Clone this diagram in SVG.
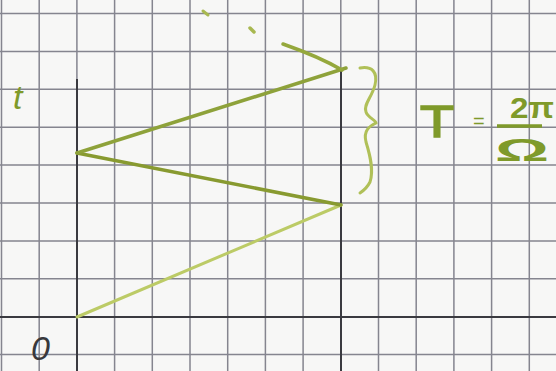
<svg xmlns="http://www.w3.org/2000/svg" width="556" height="371" viewBox="0 0 556 371">
<style>
.grid{stroke:#85858f;stroke-width:1.5;fill:none}
.axis{stroke:#3a3a40;stroke-width:2;fill:none}
.pen{stroke-linecap:round;fill:none}
.hand{fill:#7f9a2a;font-family:"Liberation Sans",Arial,sans-serif}
</style>
<rect width="556" height="371" fill="#f7f7f6"/>
<g id="grid" class="grid">
<path d="M1.5,0V371M39.2,0V371M76.9,0V371M114.6,0V371M152.3,0V371M190,0V371M227.7,0V371M265.4,0V371M303.1,0V371M340.8,0V371M378.5,0V371M416.2,0V371M453.9,0V371M491.6,0V371M529.3,0V371"/>
<path d="M0,13.5H556M0,51.4H556M0,89.3H556M0,127.2H556M0,165.1H556M0,203H556M0,240.9H556M0,278.8H556M0,316.7H556M0,354.6H556"/>
</g>
<g id="axes" class="axis">
<path d="M77,79V371"/>
<path d="M0,317H556"/>
<path d="M341,68V371"/>
</g>
<g id="connectors">
<path class="pen" d="M77,317L341,205" stroke="#bccb66" stroke-width="3"/>
<path class="pen" d="M341,205L77,153" stroke="#889a30" stroke-width="3.5"/>
<path class="pen" d="M77,153L346,68" stroke="#8ea23a" stroke-width="3.5"/>
<path class="pen" d="M283,44C300,50 325,60 342,70" stroke="#95a83c" stroke-width="3.5"/>
<path class="pen" d="M203,11L208,15" stroke="#a8b850" stroke-width="3"/>
<path class="pen" d="M250,28L254,32" stroke="#a8b850" stroke-width="3.5"/>
</g>
<g id="brace">
<path class="pen" stroke="#b0c058" stroke-width="3" d="M360,68C372,66 378,72 375,85C372,97 363,105 366,112C368,118 376,120 376,123C370,126 363,130 366,142C370,155 374,170 370,182C367,188 363,191 360,193"/>
</g>
<g id="label-t">
<text class="hand" x="13" y="109" font-size="34" font-style="italic">t</text>
</g>
<g id="label-0">
<text x="31" y="360" font-size="34" font-style="italic" fill="#38383c" font-family="Liberation Sans,Arial,sans-serif">0</text>
</g>
<g id="formula">
<text class="hand" x="420" y="137" font-size="44" stroke="#7f9a2a" stroke-width="1.5" textLength="34" lengthAdjust="spacingAndGlyphs">T</text>
<text class="hand" x="473" y="128" font-size="20">=</text>
<text class="hand" x="510" y="118" font-size="29" font-weight="bold" textLength="44" lengthAdjust="spacingAndGlyphs">2π</text>
<path d="M497,126H542" stroke="#7f9a2a" stroke-width="3.5"/>
<text class="hand" x="495" y="161" font-size="32" font-weight="bold" textLength="54" lengthAdjust="spacingAndGlyphs">Ω</text>
</g>
</svg>
